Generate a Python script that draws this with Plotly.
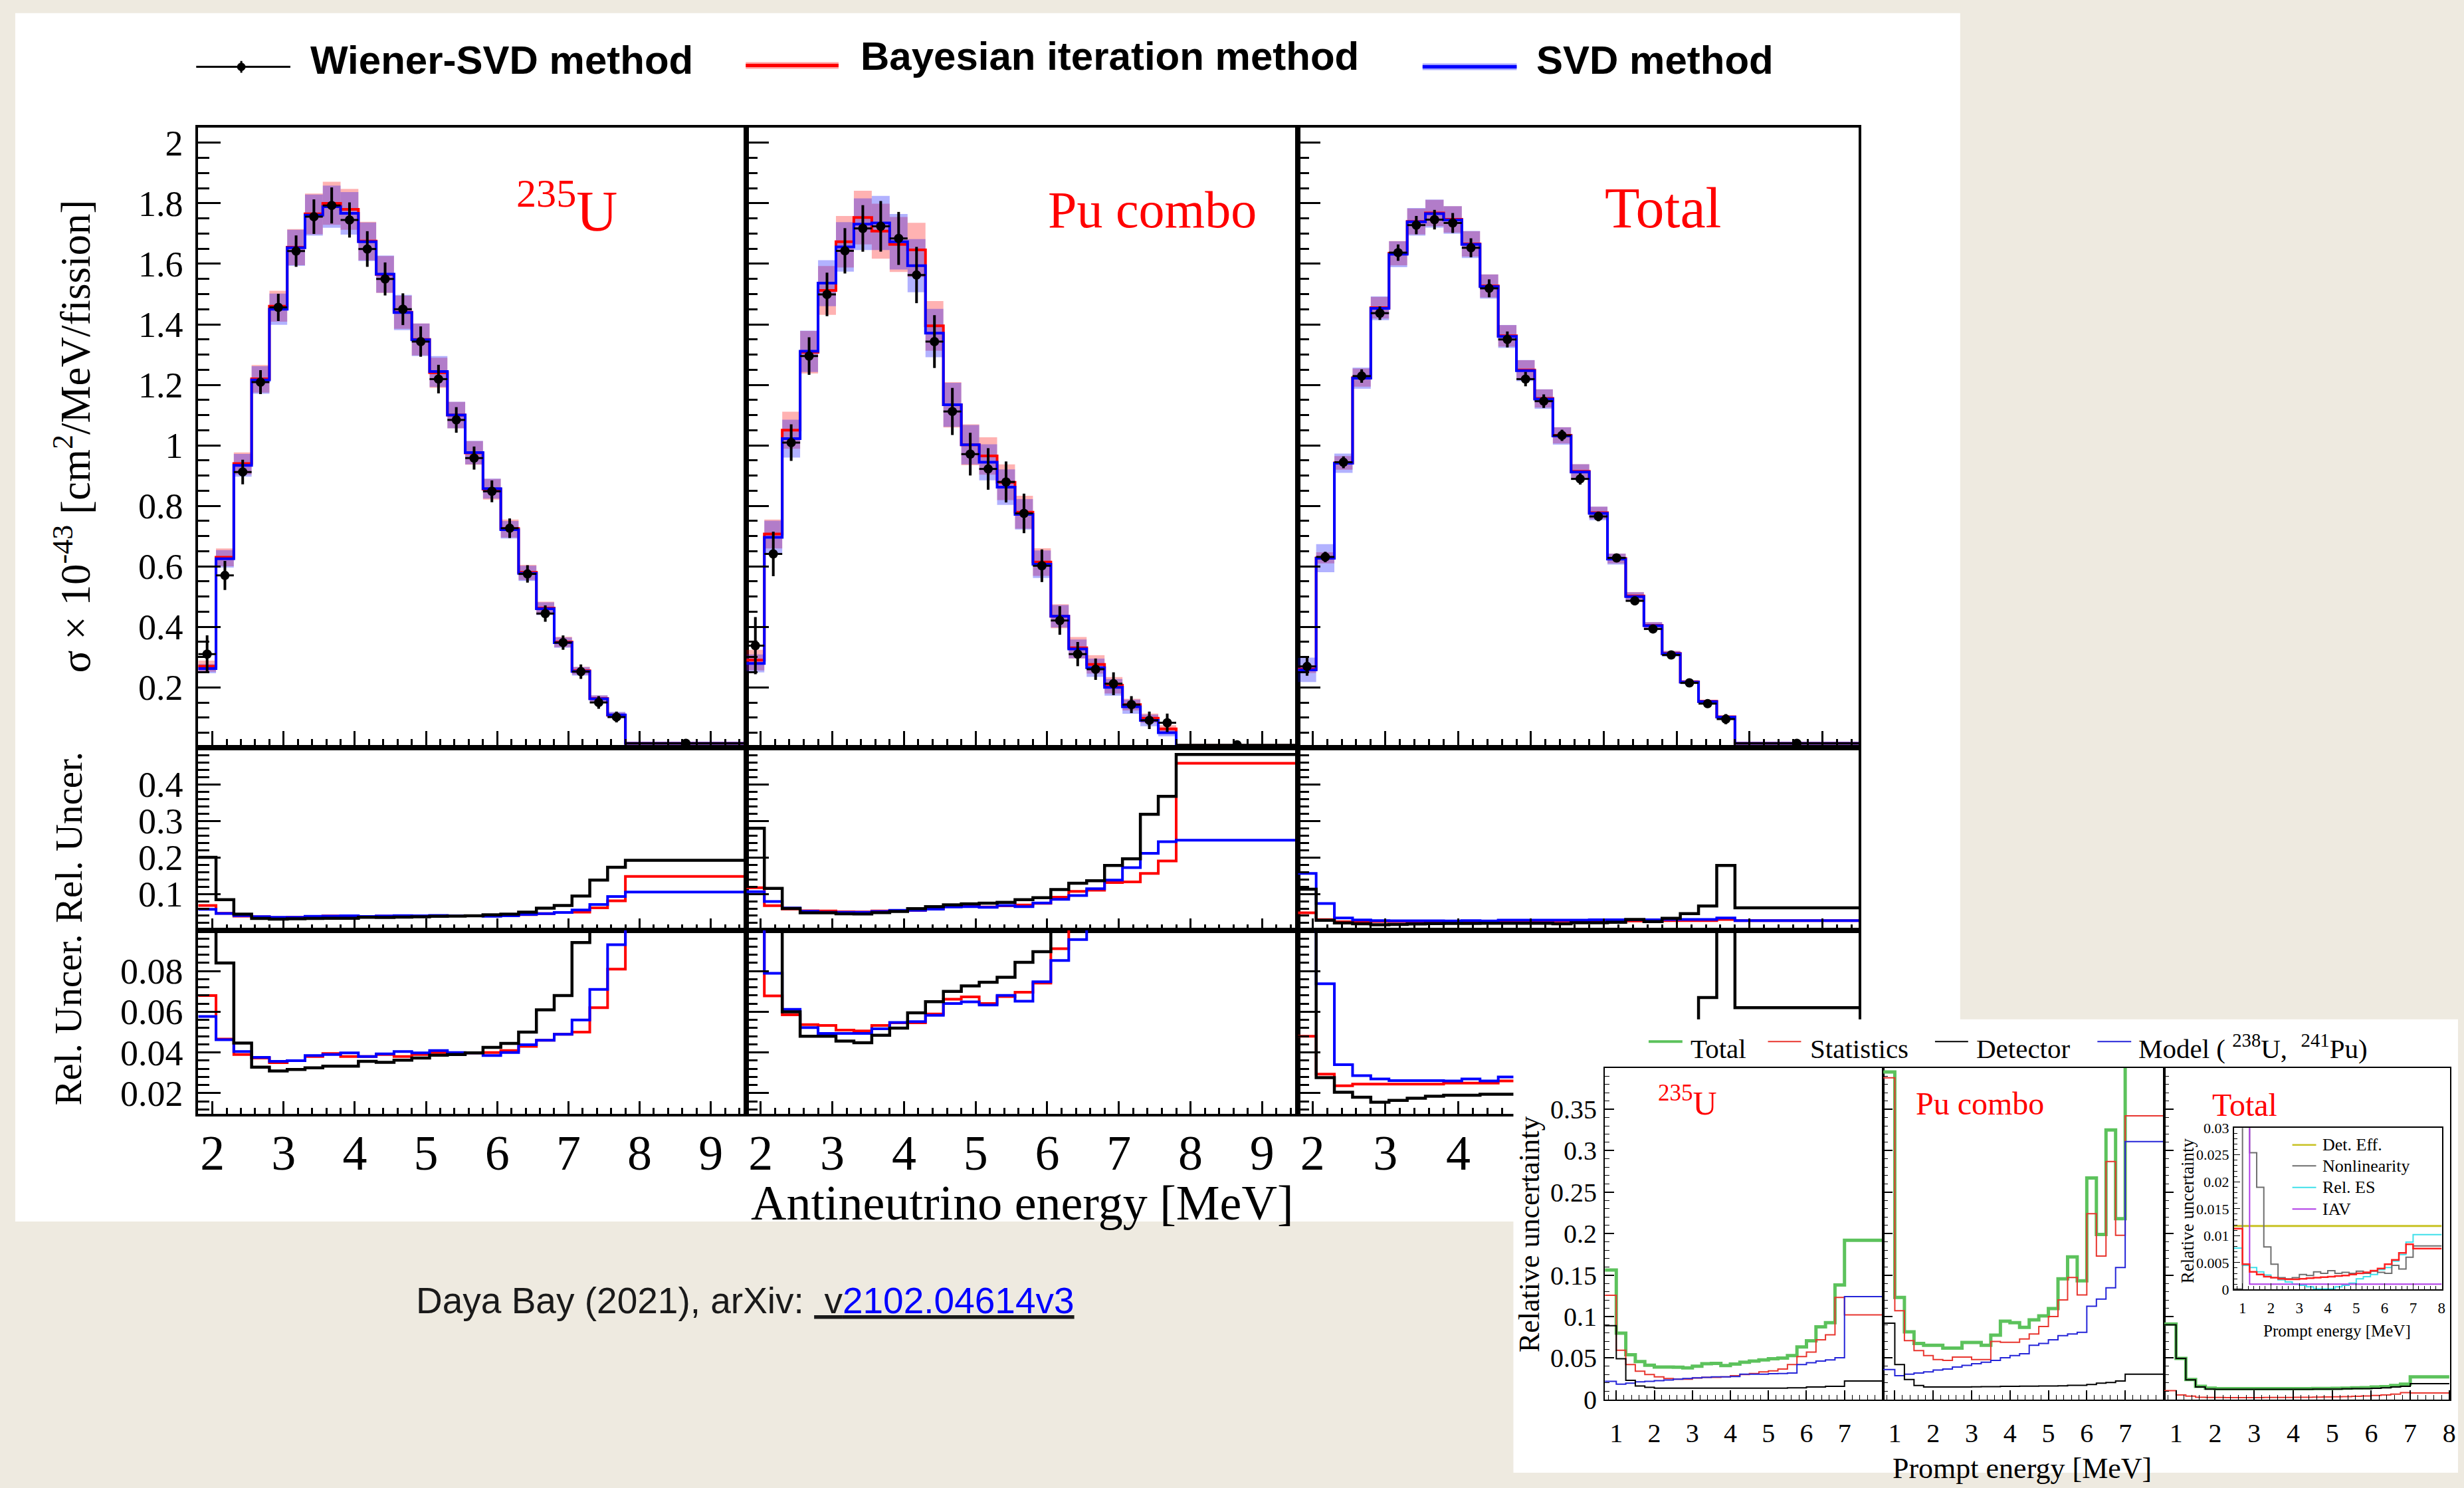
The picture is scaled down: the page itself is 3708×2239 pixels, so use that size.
import plotly.graph_objects as go

W, H = 3708, 2239


def fx(px):
    return px / W


def fy(py):
    return 1 - py / H


# ---------------------------------------------------------------- data
# antineutrino energy binning [MeV]
E_EDGES = [1.8, 2.05, 2.3, 2.55, 2.8, 3.05, 3.3, 3.55, 3.8, 4.05, 4.3, 4.55, 4.8,
           5.05, 5.3, 5.55, 5.8, 6.05, 6.3, 6.55, 6.8, 7.05, 7.3, 7.55, 7.8, 9.5]
E_XTICKS = [2, 3, 4, 5, 6, 7, 8, 9]
E_XTICKS_VISIBLE_TOTAL = [2, 3, 4]   # the rest lies under the inset

# sigma x 1e-43 [cm2/MeV/fission]
U235_WSVD = [0.31, 0.57, 0.912, 1.209, 1.456, 1.642, 1.756, 1.793, 1.745, 1.649, 1.55, 1.45, 1.343,
             1.219, 1.084, 0.958, 0.848, 0.726, 0.575, 0.444, 0.348, 0.252, 0.15, 0.102, 0.015]
U235_BAYES = [0.27, 0.63, 0.94, 1.22, 1.46, 1.655, 1.765, 1.80, 1.78, 1.675, 1.565, 1.44, 1.35,
              1.24, 1.10, 0.975, 0.855, 0.725, 0.58, 0.462, 0.35, 0.255, 0.163, 0.108, 0.015]
U235_SVD = [0.262, 0.625, 0.934, 1.216, 1.45, 1.653, 1.761, 1.789, 1.767, 1.673, 1.566, 1.439, 1.349,
            1.244, 1.1, 0.976, 0.857, 0.721, 0.577, 0.46, 0.348, 0.253, 0.162, 0.109, 0.015]
PU_WSVD = [0.338, 0.641, 1.009, 1.295, 1.499, 1.643, 1.717, 1.724, 1.684, 1.563, 1.343, 1.112, 0.971,
           0.922, 0.879, 0.775, 0.602, 0.421, 0.31, 0.26, 0.212, 0.143, 0.091, 0.083, 0.01]
PU_BAYES = [0.29, 0.707, 1.05, 1.308, 1.512, 1.673, 1.753, 1.708, 1.664, 1.646, 1.395, 1.134, 1.002,
            0.965, 0.878, 0.779, 0.614, 0.435, 0.331, 0.276, 0.207, 0.143, 0.098, 0.063, 0.008]
PU_SVD = [0.279, 0.696, 1.022, 1.311, 1.536, 1.656, 1.731, 1.735, 1.673, 1.594, 1.371, 1.134, 1.002,
          0.944, 0.862, 0.772, 0.607, 0.435, 0.327, 0.265, 0.2, 0.136, 0.091, 0.05, 0.005]
TOT_WSVD = [0.269, 0.631, 0.944, 1.229, 1.437, 1.637, 1.728, 1.746, 1.735, 1.653, 1.519, 1.35, 1.219,
            1.146, 1.033, 0.889, 0.765, 0.628, 0.486, 0.393, 0.307, 0.215, 0.146, 0.095, 0.015]
TOT_BAYES = [0.26, 0.628, 0.942, 1.224, 1.455, 1.635, 1.74, 1.768, 1.747, 1.666, 1.527, 1.362, 1.249,
             1.155, 1.033, 0.914, 0.777, 0.626, 0.502, 0.405, 0.312, 0.218, 0.154, 0.103, 0.015]
TOT_SVD = [0.258, 0.627, 0.941, 1.222, 1.453, 1.632, 1.739, 1.766, 1.745, 1.664, 1.525, 1.36, 1.247,
           1.153, 1.031, 0.912, 0.775, 0.624, 0.5, 0.404, 0.311, 0.217, 0.153, 0.102, 0.015]

# relative uncertainties
U235_REL_WSVD = [0.20, 0.084, 0.0446, 0.0328, 0.0309, 0.0317, 0.0325, 0.0333, 0.0333, 0.0357, 0.0352,
                 0.0362, 0.0373, 0.0387, 0.039, 0.0398, 0.0425, 0.0445, 0.050, 0.061, 0.068, 0.094,
                 0.138, 0.173, 0.192]
U235_REL_BAYES = [0.068, 0.0466, 0.039, 0.0373, 0.035, 0.036, 0.038, 0.0395, 0.038, 0.038, 0.039, 0.038,
                  0.039, 0.040, 0.0398, 0.0398, 0.040, 0.041, 0.043, 0.046, 0.049, 0.050, 0.062, 0.081,
                  0.148]
U235_REL_SVD = [0.0577, 0.0463, 0.0405, 0.0376, 0.0357, 0.036, 0.0385, 0.039, 0.0398, 0.038, 0.0393,
                0.0405, 0.0398, 0.041, 0.040, 0.0398, 0.0385, 0.040, 0.0438, 0.046, 0.049, 0.056, 0.071,
                0.093, 0.105]
PU_REL_WSVD = [0.28, 0.115, 0.06, 0.048, 0.048, 0.0456, 0.0448, 0.0485, 0.052, 0.0595, 0.065, 0.070,
               0.0727, 0.0745, 0.077, 0.0843, 0.0895, 0.112, 0.129, 0.136, 0.178, 0.196, 0.318, 0.367,
               0.482]
PU_REL_BAYES = [0.117, 0.0678, 0.0585, 0.0537, 0.0533, 0.051, 0.0506, 0.0533, 0.0546, 0.0546, 0.0589,
                0.0662, 0.0673, 0.0641, 0.0675, 0.0696, 0.0741, 0.091, 0.107, 0.11, 0.131, 0.133, 0.156,
                0.19, 0.458]
PU_REL_SVD = [0.106, 0.0789, 0.0612, 0.0522, 0.0494, 0.0494, 0.0494, 0.0517, 0.0548, 0.0552, 0.0583,
              0.0641, 0.0649, 0.0633, 0.0681, 0.0652, 0.0748, 0.0852, 0.0955, 0.114, 0.138, 0.172,
              0.211, 0.243, 0.247]
TOT_REL_WSVD = [0.113, 0.0277, 0.0205, 0.018, 0.0156, 0.0165, 0.0175, 0.0185, 0.019, 0.019, 0.0195,
                0.0195, 0.0195, 0.0195, 0.018, 0.021, 0.021, 0.022, 0.030, 0.024, 0.033, 0.046, 0.067,
                0.178, 0.062]
TOT_REL_BAYES = [0.048, 0.0294, 0.0237, 0.0245, 0.0245, 0.0245, 0.0245, 0.0245, 0.025, 0.025, 0.025,
                 0.026, 0.026, 0.026, 0.026, 0.026, 0.026, 0.026, 0.026, 0.026, 0.027, 0.027, 0.027,
                 0.030, 0.027]
TOT_REL_SVD = [0.156, 0.0738, 0.034, 0.0286, 0.027, 0.0262, 0.0262, 0.0262, 0.026, 0.027, 0.026, 0.028,
               0.028, 0.028, 0.028, 0.028, 0.029, 0.029, 0.029, 0.029, 0.03, 0.03, 0.03, 0.034, 0.027]

TOP_YTICKS = [0.2, 0.4, 0.6, 0.8, 1.0, 1.2, 1.4, 1.6, 1.8, 2.0]
TOP_YTEXT = ["0.2", "0.4", "0.6", "0.8", "1", "1.2", "1.4", "1.6", "1.8", "2"]
MID_YTICKS = [0.1, 0.2, 0.3, 0.4]
MID_YTEXT = ["0.1", "0.2", "0.3", "0.4"]
BOT_YTICKS = [0.02, 0.04, 0.06, 0.08]
BOT_YTEXT = ["0.02", "0.04", "0.06", "0.08"]

# prompt-energy uncertainty inset
P_EDGES = [0.7, 1.0, 1.25, 1.5, 1.75, 2.0, 2.25, 2.5, 2.75, 3.0, 3.25, 3.5, 3.75, 4.0, 4.25, 4.5,
           4.75, 5.0, 5.25, 5.5, 5.75, 6.0, 6.25, 6.5, 6.75, 7.0, 8.0]
U_TOTAL = [0.156, 0.080, 0.054, 0.0457, 0.0413, 0.039, 0.039, 0.0388, 0.038, 0.040, 0.043, 0.0435,
           0.0408, 0.0427, 0.0449, 0.0462, 0.0476, 0.049, 0.0498, 0.053, 0.0634, 0.0707, 0.0876,
           0.0925, 0.138, 0.192]
U_STAT = [0.1257, 0.0593, 0.042, 0.034, 0.030, 0.0272, 0.0253, 0.0245, 0.0245, 0.0258, 0.0267, 0.0267,
          0.0272, 0.0286, 0.030, 0.0313, 0.0332, 0.0345, 0.0367, 0.042, 0.0517, 0.0571, 0.072, 0.078,
          0.123, 0.102]
U_MODEL = [0.0218, 0.0185, 0.0196, 0.0212, 0.0218, 0.0226, 0.0235, 0.0245, 0.0253, 0.0261, 0.0267,
           0.0272, 0.0272, 0.0277, 0.0305, 0.0305, 0.0305, 0.031, 0.0313, 0.0318, 0.042, 0.0443, 0.0462,
           0.0476, 0.0503, 0.124]
U_DET = [0.089, 0.049, 0.0231, 0.0163, 0.0147, 0.0136, 0.0136, 0.0136, 0.0136, 0.0136, 0.0136, 0.0136,
         0.0136, 0.0136, 0.0136, 0.0136, 0.0136, 0.0136, 0.0136, 0.0141, 0.0141, 0.015, 0.015, 0.0158,
         0.0158, 0.0223]
PU_TOTAL = [0.395, 0.123, 0.0816, 0.0675, 0.0653, 0.0653, 0.062, 0.062, 0.0688, 0.0688, 0.0653, 0.0775,
            0.0944, 0.0925, 0.087, 0.096, 0.1007, 0.1096, 0.1455, 0.172, 0.143, 0.267, 0.199, 0.325,
            0.218, 0.45]
PU_STAT = [0.388, 0.107, 0.071, 0.059, 0.053, 0.048, 0.047, 0.051, 0.051, 0.048, 0.048, 0.070, 0.069,
           0.069, 0.073, 0.079, 0.088, 0.10, 0.120, 0.147, 0.126, 0.224, 0.173, 0.287, 0.198, 0.342]
PU_MODEL = [0.036, 0.0286, 0.0305, 0.0318, 0.0332, 0.0354, 0.0367, 0.039, 0.041, 0.043, 0.0449, 0.047,
            0.0503, 0.053, 0.0552, 0.0653, 0.0675, 0.072, 0.077, 0.079, 0.081, 0.1124, 0.121, 0.1347,
            0.159, 0.311]
PU_DET = [0.092, 0.042, 0.024, 0.0169, 0.015, 0.015, 0.015, 0.015, 0.015, 0.0152, 0.0155, 0.0155,
          0.0158, 0.0158, 0.016, 0.016, 0.0163, 0.0163, 0.0165, 0.017, 0.017, 0.018, 0.0196, 0.0204,
          0.0223, 0.0305]
T_TOTAL = [0.091, 0.0495, 0.024, 0.0158, 0.0136, 0.013, 0.013, 0.013, 0.013, 0.013, 0.013, 0.013, 0.013,
           0.013, 0.013, 0.0132, 0.0132, 0.0134, 0.0137, 0.014, 0.0143, 0.015, 0.0155, 0.0169, 0.0185,
           0.0272]
T_STAT = [0.0107, 0.0054, 0.0041, 0.0027, 0.0025, 0.0024, 0.0023, 0.0023, 0.0023, 0.0023, 0.0024,
          0.0024, 0.0025, 0.0026, 0.0027, 0.0028, 0.003, 0.0032, 0.0035, 0.0038, 0.0042, 0.0048, 0.0054,
          0.0065, 0.0082, 0.0078]
T_DET = [0.090, 0.0495, 0.0237, 0.015, 0.0125, 0.0122, 0.0122, 0.0122, 0.0122, 0.0122, 0.0122, 0.0122,
         0.0122, 0.0122, 0.0122, 0.0125, 0.0125, 0.0125, 0.0128, 0.013, 0.013, 0.0135, 0.014, 0.015,
         0.0158, 0.019]
INSET_YTICKS = [0, 0.05, 0.1, 0.15, 0.2, 0.25, 0.3, 0.35]
INSET_YTEXT = ["0", "0.05", "0.1", "0.15", "0.2", "0.25", "0.3", "0.35"]

# detector-uncertainty breakdown (inner inset)
DETEFF_X = [0.7, 8.0]
DETEFF_Y = [0.0118, 0.0118]
IN_RED = [0.0113, 0.0047, 0.0033, 0.0028, 0.0024, 0.0022, 0.002, 0.0019, 0.0019, 0.002, 0.0021, 0.0022,
          0.0023, 0.0024, 0.0025, 0.0026, 0.0028, 0.003, 0.0032, 0.0035, 0.0039, 0.0047, 0.0055, 0.0068,
          0.0084, 0.0076]
NONLIN = [0.0001, 0.035, 0.0254, 0.019, 0.0079, 0.0047, 0.0022, 0.002, 0.0022, 0.0028, 0.0026, 0.0033,
          0.003, 0.0035, 0.003, 0.0032, 0.003, 0.0034, 0.003, 0.0034, 0.0032, 0.003, 0.0045, 0.0038,
          0.006, 0.0081]
REL_ES = [0.0077, 0.0045, 0.0041, 0.0033, 0.0027, 0.0022, 0.0018, 0.0014, 0.001, 0.0008, 0.0005, 0.0001,
          0.0001, 0.0001, 0.0005, 0.0008, 0.0012, 0.002, 0.0024, 0.0028, 0.0037, 0.0041, 0.0053, 0.0065,
          0.0088, 0.0102]
IAV = [0.05, 0.05, 0.001, 0.001, 0.001, 0.001, 0.001, 0.001, 0.001, 0.001, 0.001, 0.001, 0.001, 0.001,
       0.001, 0.001, 0.001, 0.001, 0.001, 0.001, 0.001, 0.001, 0.001, 0.001, 0.001, 0.001]
INNER_YTICKS = [0, 0.005, 0.01, 0.015, 0.02, 0.025, 0.03]
INNER_YTEXT = ["0", "0.005", "0.01", "0.015", "0.02", "0.025", "0.03"]

# ---------------------------------------------------------------- helpers
SERIF = "Liberation Serif"
SANS = "Liberation Sans"
RED = "#ff0000"
BLUE = "#0000ff"
GREEN = "#5cc25c"
IRED = "#e8352e"
IBLUE = "#2424d8"

fig = go.Figure()
layout = {}


def names(idx):
    if idx == 1:
        return "x", "y", "xaxis", "yaxis"
    return f"x{idx}", f"y{idx}", f"xaxis{idx}", f"yaxis{idx}"


def centers(edges):
    return [(a + b) / 2 for a, b in zip(edges[:-1], edges[1:])]


def widths(edges):
    return [b - a for a, b in zip(edges[:-1], edges[1:])]


def step(idx, edges, vals, color, width):
    xn, yn, _, _ = names(idx)
    fig.add_trace(go.Scatter(x=edges, y=list(vals) + [vals[-1]], mode="lines",
                             line=dict(color=color, width=width, shape="hv"),
                             xaxis=xn, yaxis=yn, showlegend=False, hoverinfo="skip"))


def band(idx, edges, vals, rel, color):
    xn, yn, _, _ = names(idx)
    err = [v * r for v, r in zip(vals, rel)]
    fig.add_trace(go.Bar(x=centers(edges), y=[2 * e for e in err],
                         base=[v - e for v, e in zip(vals, err)], width=widths(edges),
                         marker=dict(color=color, line=dict(width=0)),
                         xaxis=xn, yaxis=yn, showlegend=False, hoverinfo="skip"))


def points(idx, edges, vals, rel):
    xn, yn, _, _ = names(idx)
    fig.add_trace(go.Scatter(x=centers(edges), y=vals, mode="markers",
                             marker=dict(color="black", size=14),
                             error_y=dict(type="data", array=[v * r for v, r in zip(vals, rel)],
                                          color="black", thickness=4, width=0),
                             error_x=dict(type="data", array=[w / 2 for w in widths(edges)],
                                          color="black", thickness=3, width=0),
                             xaxis=xn, yaxis=yn, showlegend=False, hoverinfo="skip"))


def axes(idx, xdom, ydom, xcfg, ycfg):
    xn, yn, xa, ya = names(idx)
    layout[xa] = dict(domain=[fx(xdom[0]), fx(xdom[1])], anchor=yn, showgrid=False,
                      zeroline=False, fixedrange=True, **xcfg)
    layout[ya] = dict(domain=[fy(ydom[1]), fy(ydom[0])], anchor=xn, showgrid=False,
                      zeroline=False, fixedrange=True, **ycfg)


def frame(lw):
    return dict(showline=True, linecolor="black", linewidth=lw, mirror=True)


def main_x(show, mj, mn, tickvals=E_XTICKS):
    return dict(range=[1.8, 9.5], tickmode="array", tickvals=tickvals, ticks="inside",
                ticklen=mj, tickwidth=3, tickcolor="black",
                minor=dict(tickmode="linear", tick0=0, dtick=0.2, ticks="inside", ticklen=mn,
                           tickwidth=2.5, tickcolor="black"),
                showticklabels=show, tickfont=dict(family=SERIF, size=74, color="black"),
                ticklabelstandoff=-8, **frame(4))


def main_y(rng, tv, tt, mdt, show):
    return dict(range=rng, tickmode="array", tickvals=tv, ticktext=tt, ticks="inside",
                ticklen=34, tickwidth=3, tickcolor="black",
                minor=dict(tickmode="linear", tick0=0, dtick=mdt, ticks="inside", ticklen=17,
                           tickwidth=2.5, tickcolor="black"),
                showticklabels=show, tickfont=dict(family=SERIF, size=54, color="black"),
                ticklabelstandoff=8, **frame(4))


# ---------------------------------------------------------------- main figure
COLS = [(299, 1126), (1126, 1958), (1958, 2804)]
ROWS = [(183, 1131), (1131, 1410), (1410, 1690)]

TOPS = [(U235_WSVD, U235_BAYES, U235_SVD), (PU_WSVD, PU_BAYES, PU_SVD),
        (TOT_WSVD, TOT_BAYES, TOT_SVD)]
RELS = [(U235_REL_WSVD, U235_REL_BAYES, U235_REL_SVD), (PU_REL_WSVD, PU_REL_BAYES, PU_REL_SVD),
        (TOT_REL_WSVD, TOT_REL_BAYES, TOT_REL_SVD)]

for c in range(3):
    wsvd, bay, svd = TOPS[c]
    rw, rb, rs = RELS[c]
    # top row
    idx = 1 + c
    axes(idx, COLS[c], ROWS[0], main_x(False, 25, 13),
         main_y([0, 2.05], TOP_YTICKS, TOP_YTEXT, 0.05, c == 0))
    band(idx, E_EDGES, bay, rb, "rgba(255,0,0,0.3)")
    band(idx, E_EDGES, svd, rs, "rgba(0,0,255,0.3)")
    step(idx, E_EDGES, bay, RED, 4)
    step(idx, E_EDGES, svd, BLUE, 4)
    points(idx, E_EDGES, wsvd, rw)
    # middle row
    idx = 4 + c
    axes(idx, COLS[c], ROWS[1], main_x(False, 18, 9),
         main_y([0, 0.5], MID_YTICKS, MID_YTEXT, 0.02, c == 0))
    step(idx, E_EDGES, rb, RED, 4)
    step(idx, E_EDGES, rs, BLUE, 4)
    step(idx, E_EDGES, rw, "black", 4.5)
    # bottom row
    idx = 7 + c
    tv = E_XTICKS_VISIBLE_TOTAL if c == 2 else E_XTICKS
    axes(idx, COLS[c], ROWS[2], main_x(True, 19, 9, tv),
         main_y([0.01, 0.1], BOT_YTICKS, BOT_YTEXT, 0.004, c == 0))
    step(idx, E_EDGES, rb, RED, 4)
    step(idx, E_EDGES, rs, BLUE, 4)
    step(idx, E_EDGES, rw, "black", 4.5)

# white cover for the inset (its own subplot background hides the main plot beneath)
axes(10, (2283, W), (1546, H),
     dict(range=[0, 1], showline=False, showticklabels=False, ticks=""),
     dict(range=[0, 1], showline=False, showticklabels=False, ticks=""))
fig.add_trace(go.Scatter(x=[0.5], y=[0.5], mode="markers", marker=dict(opacity=0),
                         xaxis="x10", yaxis="y10", showlegend=False, hoverinfo="skip"))

# ---------------------------------------------------------------- inset
ICOLS = [(2421, 2841), (2841, 3265), (3265, 3696)]
IROW = (1620, 2127)
ISETS = [(U_TOTAL, U_STAT, U_MODEL, U_DET), (PU_TOTAL, PU_STAT, PU_MODEL, PU_DET),
         (T_TOTAL, T_STAT, None, T_DET)]
for c in range(3):
    idx = 11 + c
    xt = [1, 2, 3, 4, 5, 6, 7, 8] if c == 2 else [1, 2, 3, 4, 5, 6, 7]
    xcfg = dict(range=[0.7, 8.02], tickmode="array", tickvals=xt, ticks="inside", ticklen=14,
                tickwidth=1.5, tickcolor="black",
                minor=dict(tickmode="linear", tick0=0, dtick=0.2, ticks="inside", ticklen=7,
                           tickwidth=1.2, tickcolor="black"),
                tickfont=dict(family=SERIF, size=40, color="black"), ticklabelstandoff=14,
                **frame(2))
    ycfg = dict(range=[0, 0.4], tickmode="array", tickvals=INSET_YTICKS, ticktext=INSET_YTEXT,
                ticks="inside", ticklen=14, tickwidth=1.5, tickcolor="black",
                minor=dict(tickmode="linear", tick0=0, dtick=0.01, ticks="inside", ticklen=7,
                           tickwidth=1.2, tickcolor="black"),
                showticklabels=(c == 0), tickfont=dict(family=SERIF, size=40, color="black"),
                ticklabelstandoff=2, **frame(2))
    axes(idx, ICOLS[c], IROW, xcfg, ycfg)
    tot, stat, model, det = ISETS[c]
    step(idx, P_EDGES, tot, GREEN, 5)
    step(idx, P_EDGES, stat, IRED, 2)
    if model is not None:
        step(idx, P_EDGES, model, IBLUE, 2)
    step(idx, P_EDGES, det, "black", 2)

# inner inset
axes(14, (3370, 3684), (1712, 1959),
     dict(range=[0.7, 8.02], tickmode="array", tickvals=[1, 2, 3, 4, 5, 6, 7, 8], ticks="inside",
          ticklen=9, tickwidth=1.2, tickcolor="black",
          minor=dict(tickmode="linear", tick0=0, dtick=0.2, ticks="inside", ticklen=5,
                     tickwidth=1, tickcolor="black"),
          tickfont=dict(family=SERIF, size=23, color="black"), ticklabelstandoff=6, **frame(2)),
     dict(range=[0, 0.03], tickmode="array", tickvals=INNER_YTICKS, ticktext=INNER_YTEXT,
          ticks="inside", ticklen=9, tickwidth=1.2, tickcolor="black",
          minor=dict(tickmode="linear", tick0=0, dtick=0.001, ticks="inside", ticklen=5,
                     tickwidth=1, tickcolor="black"),
          tickfont=dict(family=SERIF, size=22, color="black"), ticklabelstandoff=1, **frame(2)))
fig.add_trace(go.Scatter(x=DETEFF_X, y=DETEFF_Y, mode="lines", line=dict(color="#c8c224", width=3),
                         xaxis="x14", yaxis="y14", showlegend=False, hoverinfo="skip"))
step(14, P_EDGES, REL_ES, "#3fe0ea", 2)
step(14, P_EDGES, NONLIN, "#6e6e6e", 2)
step(14, P_EDGES, IAV, "#b03ce6", 2)
step(14, P_EDGES, IN_RED, "#ff2020", 2.5)

# ---------------------------------------------------------------- decorations
shapes = [dict(type="rect", xref="paper", yref="paper", x0=fx(23), x1=fx(2957), y0=fy(1855),
               y1=fy(8), fillcolor="white", line=dict(width=0), layer="below")]


def hline(x0, x1, y, color, width):
    shapes.append(dict(type="line", xref="paper", yref="paper", x0=fx(x0), x1=fx(x1), y0=fy(y),
                       y1=fy(y), line=dict(color=color, width=width), layer="above"))


# main legend
hline(296, 438, 90, "black", 3)
shapes.append(dict(type="line", xref="paper", yref="paper", x0=fx(364), x1=fx(364), y0=fy(81),
                   y1=fy(99), line=dict(color="black", width=3)))
shapes.append(dict(type="circle", xref="paper", yref="paper", x0=fx(358), x1=fx(370), y0=fy(96),
                   y1=fy(84), fillcolor="black", line=dict(color="black", width=1)))
hline(1125, 1265, 88, "rgba(255,0,0,0.35)", 10)
hline(1125, 1265, 88, RED, 5)
hline(2146, 2288, 90, "rgba(0,0,255,0.35)", 10)
hline(2146, 2288, 90, BLUE, 5)
# inset legend
hline(2487, 2538, 1580, GREEN, 4)
hline(2667, 2717, 1580, IRED, 2)
hline(2919, 2969, 1580, "black", 2)
hline(3164, 3215, 1580, IBLUE, 2)
# inner legend
hline(3458, 3494, 1738, "#c8c224", 2.5)
hline(3458, 3494, 1770, "#6e6e6e", 2)
hline(3458, 3494, 1803, "#3fe0ea", 2)
hline(3458, 3494, 1836, "#b03ce6", 2)

ann = []


def text(t, x, y, size, family=SERIF, color="black", xanchor="left", yanchor="middle",
         angle=0):
    ann.append(dict(text=t, x=fx(x), y=fy(y), xref="paper", yref="paper", showarrow=False,
                    xanchor=xanchor, yanchor=yanchor, textangle=angle,
                    font=dict(family=family, size=size, color=color)))


# main legend text
text("<b>Wiener-SVD method</b>", 466, 80, 60, SANS)
text("<b>Bayesian iteration method</b>", 1296, 74, 60, SANS)
text("<b>SVD method</b>", 2316, 80, 60, SANS)
# panel labels
text("<sup>235</sup>U", 777, 362, 86, color=RED, yanchor="bottom")
text("Pu combo", 1579, 355, 78, color=RED, yanchor="bottom")
text("Total", 2419, 357, 86, color=RED, yanchor="bottom")
# axis titles
text("σ × 10<sup>-43</sup> [cm<sup>2</sup>/MeV/fission]", 110, 655, 63, xanchor="center",
     angle=-90)
text("Rel. Uncer.", 103, 1268, 57, xanchor="center", angle=-90)
text("Rel. Uncer.", 103, 1547, 57, xanchor="center", angle=-90)
text("Antineutrino energy [MeV]", 1542, 1827, 74, xanchor="center")
# caption
text("Daya Bay (2021), arXiv: <u> v</u><u><span style='color:#0000ff'>2102.04614v3</span></u>",
     626, 1976, 55, SANS, color="#1a1a1a")
# inset texts
text("Total", 2548, 1616, 41, yanchor="bottom")
text("Statistics", 2729, 1616, 41, yanchor="bottom")
text("Detector", 2979, 1616, 41, yanchor="bottom")
text("Model ( <sup>238</sup>U,  <sup>241</sup>Pu)", 3224, 1616, 41, yanchor="bottom")
text("<sup>235</sup>U", 2499, 1705, 50, color=RED, yanchor="bottom")
text("Pu combo", 2888, 1704, 48, color=RED, yanchor="bottom")
text("Total", 3335, 1706, 48, color=RED, yanchor="bottom")
text("Relative uncertainty", 2307, 1874, 44, xanchor="center", angle=-90)
text("Prompt energy [MeV]", 3050, 2232, 44, xanchor="center")
# inner inset texts
text("Det. Eff.", 3501, 1738, 26)
text("Nonlinearity", 3501, 1770, 26)
text("Rel. ES", 3501, 1803, 26)
text("IAV", 3501, 1836, 26)
text("Relative uncertainty", 3300, 1838, 27, xanchor="center", angle=-90)
text("Prompt energy [MeV]", 3526, 2022, 25, xanchor="center")

fig.update_layout(width=W, height=H, margin=dict(l=0, r=0, t=0, b=0, pad=0),
                  paper_bgcolor="#eeeae0", plot_bgcolor="white", barmode="overlay",
                  showlegend=False, shapes=shapes, annotations=ann, **layout)

fig.write_html("out.html")
